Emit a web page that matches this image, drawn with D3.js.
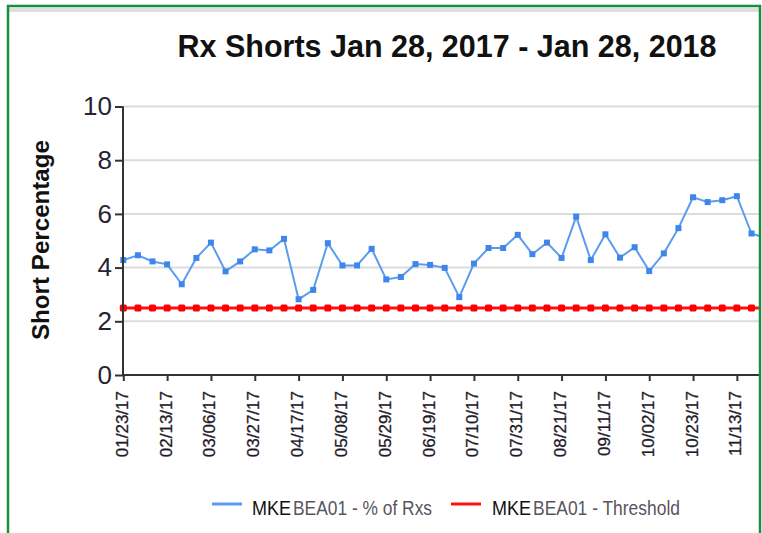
<!DOCTYPE html>
<html>
<head>
<meta charset="utf-8">
<script src="https://cdn.jsdelivr.net/npm/d3@7/dist/d3.min.js"></script>
<style>
  html, body { margin: 0; padding: 0; background: #fff; }
  svg { display: block; font-family: "Liberation Sans", Arial, sans-serif; }
</style>
</head>
<body>
<svg id="chart" width="762" height="533"></svg>
<script>
const weeks = ["01/23/17","01/30/17","02/06/17","02/13/17","02/20/17","02/27/17","03/06/17","03/13/17","03/20/17","03/27/17",
  "04/03/17","04/10/17","04/17/17","04/24/17","05/01/17","05/08/17","05/15/17","05/22/17","05/29/17","06/05/17",
  "06/12/17","06/19/17","06/26/17","07/03/17","07/10/17","07/17/17","07/24/17","07/31/17","08/07/17","08/14/17",
  "08/21/17","08/28/17","09/04/17","09/11/17","09/18/17","09/25/17","10/02/17","10/09/17","10/16/17","10/23/17",
  "10/30/17","11/06/17","11/13/17","11/20/17","11/27/17"];
const pctOfRxs = [4.28,4.46,4.23,4.12,3.38,4.36,4.93,3.86,4.23,4.68,
  4.64,5.07,2.82,3.17,4.91,4.08,4.08,4.70,3.56,3.65,
  4.13,4.10,3.99,2.90,4.15,4.73,4.73,5.22,4.50,4.93,
  4.36,5.90,4.28,5.24,4.37,4.76,3.87,4.53,5.47,6.62,
  6.44,6.51,6.66,5.27,5.10];
const threshold = [2.5,2.5,2.5,2.5,2.5,2.5,2.5,2.5,2.5,2.5,
  2.5,2.5,2.5,2.5,2.5,2.5,2.5,2.5,2.5,2.5,
  2.5,2.5,2.5,2.5,2.5,2.5,2.5,2.5,2.5,2.5,
  2.5,2.5,2.5,2.5,2.5,2.5,2.5,2.5,2.5,2.5,
  2.5,2.5,2.5,2.5,2.5];
const xTickLabels = ["01/23/17","02/13/17","03/06/17","03/27/17","04/17/17","05/08/17","05/29/17","06/19/17",
  "07/10/17","07/31/17","08/21/17","09/11/17","10/02/17","10/23/17","11/13/17"];
const yTicks = [0,2,4,6,8,10];
const seriesNames = ["% of Rxs", "Threshold"];
const locationName = "MKEBEA01";
const titleText = "Rx Shorts Jan 28, 2017 - Jan 28, 2018";
const yLabel = "Short Percentage";

const svg = d3.select("#chart");
const W = 762, H = 533;
svg.append("rect").attr("width", W).attr("height", H).attr("fill", "#fff");

const x = d3.scalePoint().domain(weeks).range([123.3, 766.1]).padding(0);
const y = d3.scaleLinear().domain([0, 10]).range([375, 106.5]);

const clipRight = 759;
svg.append("defs").append("clipPath").attr("id", "plotclip")
  .append("rect").attr("x", 0).attr("y", 0).attr("width", clipRight).attr("height", H);

const plot = svg.append("g").attr("clip-path", "url(#plotclip)");

// gridlines
plot.append("g").selectAll("line").data(yTicks.filter(d => d > 0)).join("line")
  .attr("x1", 123).attr("x2", W)
  .attr("y1", d => y(d)).attr("y2", d => y(d))
  .attr("stroke", "#dcdcdc").attr("stroke-width", 2);

// y axis
const yAxis = d3.axisLeft(y).tickValues(yTicks).tickSize(8).tickPadding(3).tickFormat(d3.format("d"));
const gy = svg.append("g").attr("transform", "translate(123,0)").call(yAxis);
gy.select(".domain").attr("stroke", "#333").attr("stroke-width", 2).attr("d", `M0,${y(10)}V${y(0)}`);
gy.selectAll(".tick line").attr("stroke", "#333").attr("stroke-width", 2);
gy.selectAll(".tick text").attr("font-size", 26).attr("fill", "#2a2233")
  .attr("font-family", "'Liberation Sans', Arial, sans-serif");

// x axis
const xAxis = d3.axisBottom(x).tickValues(xTickLabels).tickSize(6).tickSizeOuter(0);
const gx = plot.append("g").attr("transform", `translate(0,${y(0)})`).call(xAxis);
gx.select(".domain").attr("stroke", "#333").attr("stroke-width", 2).attr("d", `M${x(weeks[0])},0H${W}`);
gx.selectAll(".tick line").attr("stroke", "#333").attr("stroke-width", 2);
gx.selectAll(".tick text")
  .attr("font-size", 17).attr("fill", "#1e1a28")
  .attr("font-family", "'Liberation Sans', Arial, sans-serif")
  .attr("text-anchor", "end")
  .attr("transform", "translate(-2,16) rotate(-90)")
  .attr("x", 0).attr("y", 0).attr("dy", "0.35em")
  .attr("stroke", "#1e1a28").attr("stroke-width", 0.3);

// threshold line
const lineGen = d3.line().x((d, i) => x(weeks[i])).y(d => y(d));
plot.append("path").datum(threshold).attr("d", lineGen)
  .attr("fill", "none").attr("stroke", "#ff1010").attr("stroke-width", 3);
plot.append("g").selectAll("rect").data(threshold).join("rect")
  .attr("x", (d, i) => x(weeks[i]) - 3.5).attr("y", d => y(d) - 3.5)
  .attr("width", 7).attr("height", 7).attr("rx", 1.5)
  .attr("fill", "#f00");

// % of Rxs line
plot.append("path").datum(pctOfRxs).attr("d", lineGen)
  .attr("fill", "none").attr("stroke", "#5a9cf0").attr("stroke-width", 2);
plot.append("g").selectAll("rect").data(pctOfRxs).join("rect")
  .attr("x", (d, i) => x(weeks[i]) - 3).attr("y", d => y(d) - 3)
  .attr("width", 6).attr("height", 6)
  .attr("fill", "#3f86ea");

// title
svg.append("text").attr("x", 447).attr("y", 57).attr("text-anchor", "middle")
  .attr("font-size", 32).attr("font-weight", "bold").attr("fill", "#111")
  .attr("textLength", 539).attr("lengthAdjust", "spacingAndGlyphs")
  .text(titleText);

// y label
svg.append("text").attr("transform", "translate(49,240) rotate(-90)")
  .attr("text-anchor", "middle").attr("font-size", 23).attr("font-weight", "bold").attr("fill", "#111")
  .attr("textLength", 200).attr("lengthAdjust", "spacingAndGlyphs")
  .text(yLabel);

// legend
const legend = [
  {name: seriesNames[0], color: "#5a9cf0", lx: 212, tx: 252, tw: 139},
  {name: seriesNames[1], color: "#ff1010", lx: 451, tx: 492, tw: 147}
];
const lg = svg.append("g");
legend.forEach(l => {
  lg.append("line").attr("x1", l.lx).attr("x2", l.lx + 30).attr("y1", 504).attr("y2", 504)
    .attr("stroke", l.color).attr("stroke-width", 3);
  lg.append("text").attr("x", l.tx).attr("y", 515).attr("font-size", 21)
    .attr("textLength", 39).attr("lengthAdjust", "spacingAndGlyphs")
    .attr("fill", "#111").text(locationName.slice(0, 3));
  lg.append("text").attr("x", l.tx + 41).attr("y", 515).attr("font-size", 21)
    .attr("textLength", l.tw).attr("lengthAdjust", "spacingAndGlyphs")
    .attr("fill", "#5a5560").text(locationName.slice(3) + " - " + l.name);
});

// frame
svg.append("rect").attr("x", 9).attr("y", 8).attr("width", 750).attr("height", 4).attr("fill", "#dedede");
svg.append("line").attr("x1", 8).attr("x2", 8).attr("y1", 5).attr("y2", H).attr("stroke", "#159040").attr("stroke-width", 2.5);
svg.append("line").attr("x1", 7).attr("x2", 761).attr("y1", 6).attr("y2", 6).attr("stroke", "#159040").attr("stroke-width", 2.5);
svg.append("line").attr("x1", 760).attr("x2", 760).attr("y1", 5).attr("y2", H).attr("stroke", "#159040").attr("stroke-width", 2.5);
</script>
</body>
</html>
